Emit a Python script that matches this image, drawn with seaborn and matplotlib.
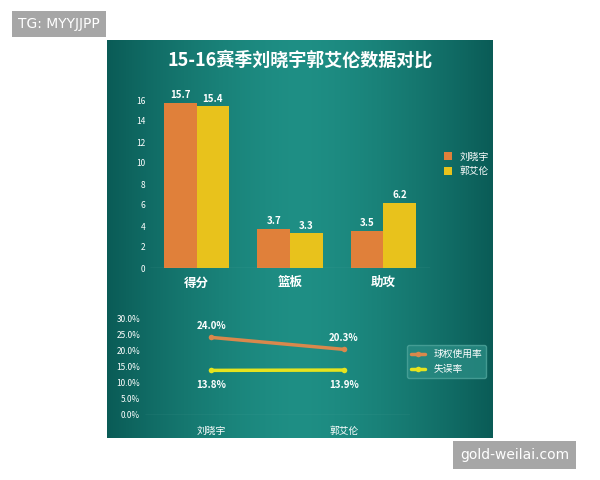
import matplotlib.pyplot as plt
import numpy as np
import pandas as pd
import seaborn as sns

categories = ["得分", "篮板", "助攻"]
players = ["刘晓宇", "郭艾伦"]
liu_vals = [15.7, 3.7, 3.5]
guo_vals = [15.4, 3.3, 6.2]
usage_rate = [24.0, 20.3]
turnover_rate = [13.8, 13.9]

sns.set_theme(style="white")
plt.rcParams["font.family"] = ["Noto Sans CJK SC", "DejaVu Sans"]

ORANGE, YELLOW = "#e0803a", "#e8c21c"
LINE_OR, LINE_YE = "#d9884c", "#e6e31e"

fig = plt.figure(figsize=(6, 4.8), dpi=100)
fig.patch.set_facecolor("white")

# teal panel with horizontal gradient
bg = fig.add_axes([107 / 600, 1 - 438 / 480, 386 / 600, 398 / 480])
g = np.abs(np.linspace(-1, 1, 200))
c0, c1 = np.array([0.12, 0.56, 0.52]), np.array([0.04, 0.36, 0.34])
img = c0[None, :] * (1 - g[:, None] ** 1.5) + c1[None, :] * g[:, None] ** 1.5
bg.imshow(img[None, :, :], aspect="auto", extent=[0, 1, 0, 1])
bg.axis("off")

fig.text(0.5, 1 - 60 / 480, "15-16赛季刘晓宇郭艾伦数据对比", ha="center", va="center",
         fontsize=13, fontweight="bold", color="white")

# bar chart
df = pd.DataFrame({"cat": categories * 2, "player": [players[0]] * 3 + [players[1]] * 3,
                   "val": liu_vals + guo_vals})
ax = fig.add_axes([150 / 600, 1 - 268 / 480, 280 / 600, 168 / 480])
ax.patch.set_alpha(0)
sns.barplot(data=df, x="cat", y="val", hue="player", palette=[ORANGE, YELLOW],
            width=0.7, ax=ax, edgecolor="none", saturation=1)
for cont in ax.containers:
    ax.bar_label(cont, fmt="%.1f", color="white", fontsize=7, fontweight="bold", padding=2)
ax.set_ylim(0, 16)
ax.set_yticks(range(0, 17, 2))
ax.tick_params(axis="y", colors="white", labelsize=6, length=0)
ax.tick_params(axis="x", colors="white", labelsize=9, length=0, pad=6)
for lab in ax.get_xticklabels():
    lab.set_fontweight("bold")
ax.set_xlabel(""); ax.set_ylabel("")
for s in ax.spines.values():
    s.set_visible(False)
ax.axhline(0, color="#9ad0c8", lw=0.8)
ax.legend(loc="center left", bbox_to_anchor=(1.02, 0.62), frameon=False,
          fontsize=7, labelcolor="white", handlelength=0.8, handleheight=0.8)

# line chart
ldf = pd.DataFrame({"player": players * 2, "rate": usage_rate + turnover_rate,
                    "kind": ["球权使用率"] * 2 + ["失误率"] * 2})
ax2 = fig.add_axes([145 / 600, 1 - 415 / 480, 265 / 600, 97 / 480])
ax2.patch.set_alpha(0)
sns.lineplot(data=ldf, x="player", y="rate", hue="kind", palette=[LINE_OR, LINE_YE],
             marker="o", markersize=4, markeredgecolor="none", lw=2.5, ax=ax2, sort=False)
ax2.set_xlim(-0.5, 1.5)
ax2.set_ylim(0, 30)
ax2.set_yticks(range(0, 31, 5))
ax2.set_yticklabels([f"{v:.1f}%" for v in range(0, 31, 5)])
ax2.tick_params(axis="y", colors="white", labelsize=6, length=0)
ax2.tick_params(axis="x", colors="white", labelsize=7, length=0, pad=8)
ax2.set_xlabel(""); ax2.set_ylabel("")
for s in ax2.spines.values():
    s.set_visible(False)
ax2.axhline(0, color="#9ad0c8", lw=0.8)
for i, (u, t) in enumerate(zip(usage_rate, turnover_rate)):
    ax2.text(i, u + 2.5, f"{u:.1f}%", ha="center", color="white", fontsize=7, fontweight="bold")
    ax2.text(i, t - 5.5, f"{t:.1f}%", ha="center", color="white", fontsize=7, fontweight="bold")
leg = ax2.legend(loc="center left", bbox_to_anchor=(0.97, 0.55), frameon=True, fontsize=7,
                 labelcolor="white", handlelength=1.5)
leg.get_frame().set_facecolor("#2a8c84"); leg.get_frame().set_edgecolor("#4fa59c")

# watermarks
fig.text(18 / 600, 1 - 24 / 480, "TG: MYYJJPP", color="white", fontsize=10, va="center",
         family=["DejaVu Sans"], bbox=dict(boxstyle="square,pad=0.45", fc="#a6a6a6", ec="none"))
fig.text(460 / 600, 1 - 455 / 480, "gold-weilai.com", color="white", fontsize=10, va="center",
         family=["DejaVu Sans"], bbox=dict(boxstyle="square,pad=0.5", fc="#a6a6a6", ec="none"))

fig.savefig("out.png", dpi=100)
